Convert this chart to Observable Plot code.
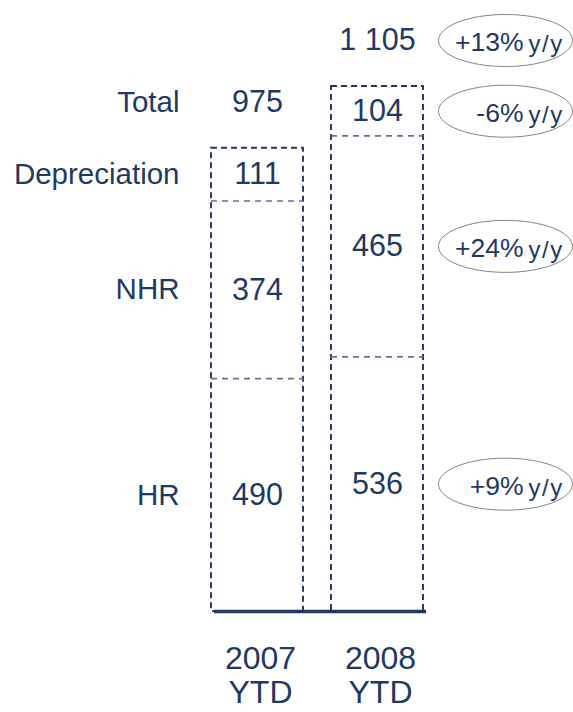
<!DOCTYPE html>
<html><head><meta charset="utf-8">
<script src="https://cdn.jsdelivr.net/npm/d3@7"></script>
<script src="https://cdn.jsdelivr.net/npm/@observablehq/plot@0.6"></script>
<style>body{margin:0;background:#fff;} svg{display:block;}</style>
</head><body><div id="chart"></div>
<script>
// ---- data ----
const years = ["2007 YTD", "2008 YTD"];
const yearLabels = ["2007\nYTD", "2008\nYTD"];
const segments = ["HR", "NHR", "Depreciation"];
const values2007 = [490, 374, 111];
const values2008 = [536, 465, 104];
const totals = [975, 1105];
const totalLabels = ["975", "1 105"];
const segmentChanges = ["+9%", "+24%", "-6%"];
const totalChange = "+13%";
const changeUnit = "y/y";

// ---- tables ----
const seriesByYear = [values2007, values2008];
const rows = [];
years.forEach((year, i) => {
  let cum = 0;
  segments.forEach((segment, j) => {
    const value = seriesByYear[i][j];
    rows.push({year, segment, value, y1: cum, y2: cum + value, mid: cum + value / 2, change: segmentChanges[j]});
    cum += value;
  });
});
const totalRows = years.map((year, i) => ({year, total: totals[i], label: totalLabels[i], tick: yearLabels[i], change: totalChange}));
const rows2007 = rows.filter(d => d.year === years[0]);
const rows2008 = rows.filter(d => d.year === years[1]);
const dividers = rows.filter(d => d.segment !== segments[segments.length - 1]);

const navy = "#1f3864";
const textColor = "#1f3a62";
const font = "'Liberation Sans', Arial, Helvetica, sans-serif";

const ellipse = {
  draw(ctx) {
    const rx = 67, ry = 26, k = 0.5523;
    ctx.moveTo(rx, 0);
    ctx.bezierCurveTo(rx, ry * k, rx * k, ry, 0, ry);
    ctx.bezierCurveTo(-rx * k, ry, -rx, ry * k, -rx, 0);
    ctx.bezierCurveTo(-rx, -ry * k, -rx * k, -ry, 0, -ry);
    ctx.bezierCurveTo(rx * k, -ry, rx, -ry * k, rx, 0);
    ctx.closePath();
  }
};

const svg = Plot.plot({
  width: 573,
  height: 712,
  marginLeft: 214,
  marginRight: 147,
  marginTop: 20,
  marginBottom: 101,
  style: {fontFamily: font, background: "#fff"},
  x: {domain: years, range: [211, 424], paddingInner: 0.23, paddingOuter: 0, axis: null},
  y: {domain: [0, 1105], range: [611, 86], axis: null},
  marks: [
    Plot.barY(totalRows, {x: "year", y: "total", fill: "none", stroke: "#253659", strokeWidth: 1.9, strokeDasharray: "6,4"}),
    Plot.tickY(dividers, {x: "year", y: "y2", stroke: "#6e6c9c", strokeWidth: 1.7, strokeDasharray: "6,5"}),
    Plot.ruleY([0], {stroke: navy, strokeWidth: 3.5}),
    Plot.text(rows, {x: "year", y: "mid", text: d => String(d.value), fontSize: 30.5, fill: textColor}),
    Plot.text(totalRows, {x: "year", y: "total", dy: -46, text: "label", fontSize: 30.5, fill: textColor}),
    Plot.text(rows2007, {frameAnchor: "left", y: "mid", text: "segment", textAnchor: "end", dx: -35, fontSize: 29.5, fill: textColor}),
    Plot.text(totalRows.slice(0, 1), {frameAnchor: "left", y: "total", dy: -46, text: () => "Total", textAnchor: "end", dx: -35, fontSize: 29.5, fill: textColor}),
    Plot.text(totalRows, {x: "year", y: () => 0, dy: 64, dx: 3, text: "tick", fontSize: 32, lineHeight: 1.05, fill: textColor}),
    Plot.dot(rows2008, {x: "year", y: "mid", dx: 128, symbol: ellipse, stroke: "#858585", fill: "none", strokeWidth: 1}),
    Plot.dot(totalRows.slice(1), {x: "year", y: "total", dy: -46, dx: 128, symbol: ellipse, stroke: "#858585", fill: "none", strokeWidth: 1}),
    Plot.text(rows2008, {x: "year", y: "mid", dx: 146, dy: 2, text: "change", textAnchor: "end", fontSize: 26.5, fill: textColor}),
    Plot.text(rows2008, {x: "year", y: "mid", dx: 151, dy: 4, text: () => changeUnit, textAnchor: "start", fontSize: 24, fill: textColor}),
    Plot.text(totalRows.slice(1), {x: "year", y: "total", dy: -44, dx: 146, text: "change", textAnchor: "end", fontSize: 26.5, fill: textColor}),
    Plot.text(totalRows.slice(1), {x: "year", y: "total", dy: -42, dx: 151, text: () => changeUnit, textAnchor: "start", fontSize: 24, fill: textColor})
  ]
});
d3.select(svg).selectAll("text").filter(function () { return this.textContent === changeUnit; }).attr("letter-spacing", "1.5");
document.getElementById("chart").appendChild(svg);
</script>
</body></html>
